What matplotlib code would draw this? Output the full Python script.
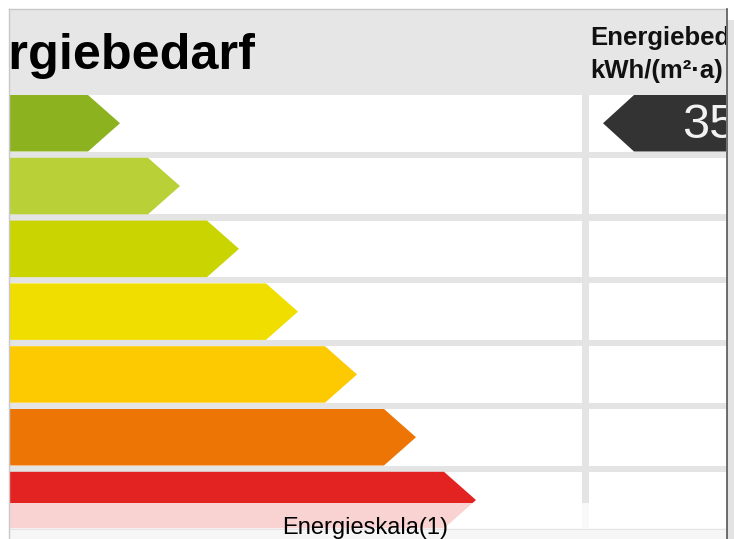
import numpy as np
import matplotlib
matplotlib.use("Agg")
import matplotlib.pyplot as plt
from matplotlib.patches import Polygon, Rectangle
from matplotlib.transforms import Bbox, TransformedBbox

# Energieklassen (sichtbarer Ausschnitt), Farben und Pfeillaengen
klassen = ["A", "B", "C", "D", "E", "F", "G"]
farben = ["#8cb21f", "#b9d036", "#c9d400", "#f0de00", "#fdc900", "#ec7506", "#e32322"]
pfeil_ende = [120, 180, 239, 298, 357, 416, 476]
wert = "35"
wert_klasse = 0
titel = "Energiebedarf"
kopf_rechts = ["Energiebedarf", "kWh/(m²·a)"]
unterschrift = "Energieskala(1)"

W, H = 734, 539
fig = plt.figure(figsize=(W / 100, H / 100), dpi=100)
ax = fig.add_axes([0, 0, 1, 1])
ax.set_xlim(0, W)
ax.set_ylim(H, 0)
ax.axis("off")

plt.rcParams["font.family"] = ["Liberation Sans", "DejaVu Sans"]

# Rahmen
clip = TransformedBbox(Bbox.from_extents(10, 10, 726, 530), ax.transData)
ax.add_patch(Rectangle((727, 20), 7, H - 20, color="#e3e3e3", lw=0))
ax.add_patch(Rectangle((10, 529), 716, 10, color="#f6f6f6", lw=0))
ax.plot([9, 9], [9, 539], color="#c8c8c8", lw=1)
ax.plot([9, 726], [9, 9], color="#c8c8c8", lw=1)


def beschnitten(t):
    t.set_clip_on(True)
    t.set_clip_box(clip)
    t.set_clip_path(None)


# Kopfzeile
ax.add_patch(Rectangle((10, 10), 716, 85, color="#e6e6e6", lw=0))
t = ax.text(-83, 69, titel, fontsize=36.3, fontweight="bold", color="black",
            ha="left", va="baseline")
beschnitten(t)
for i, s in enumerate(kopf_rechts):
    t = ax.text(590, 45 + i * 33, s, fontsize=18.5, fontweight="bold",
                color="#111111", ha="left", va="baseline")
    beschnitten(t)

# Zeilen
top0, pitch, hoehe, spitze = 95, 62.8, 56.5, 32
ax.add_patch(Rectangle((10, 95), 716, 435, color="#e4e4e4", lw=0))
for i, (k, c, e) in enumerate(zip(klassen, farben, pfeil_ende)):
    y0 = top0 + i * pitch
    y1 = y0 + hoehe
    ym = (y0 + y1) / 2
    ax.add_patch(Rectangle((10, y0), 572, hoehe, color="white", lw=0))
    ax.add_patch(Rectangle((589, y0), 137, hoehe, color="white", lw=0))
    ax.add_patch(Polygon([(10, y0), (e - spitze, y0), (e, ym), (e - spitze, y1), (10, y1)],
                         closed=True, color=c, lw=0))
    if i == wert_klasse:
        ax.add_patch(Polygon([(726, y0), (634, y0), (603, ym), (634, y1), (726, y1)],
                             closed=True, color="#333333", lw=0))
        t = ax.text(682, ym + 15, wert, fontsize=35, color="#f2f2f2",
                    ha="left", va="baseline")
        beschnitten(t)

# halbtransparente Fusszeile
ax.add_patch(Rectangle((10, 503), 716, 26, color="white", alpha=0.8, lw=0))
ax.text(365, 534, unterschrift, fontsize=17, color="black", ha="center", va="baseline")
ax.plot([726.5, 726.5], [9, 539], color="#555555", lw=1.2)

fig.savefig("out.png", dpi=100)
